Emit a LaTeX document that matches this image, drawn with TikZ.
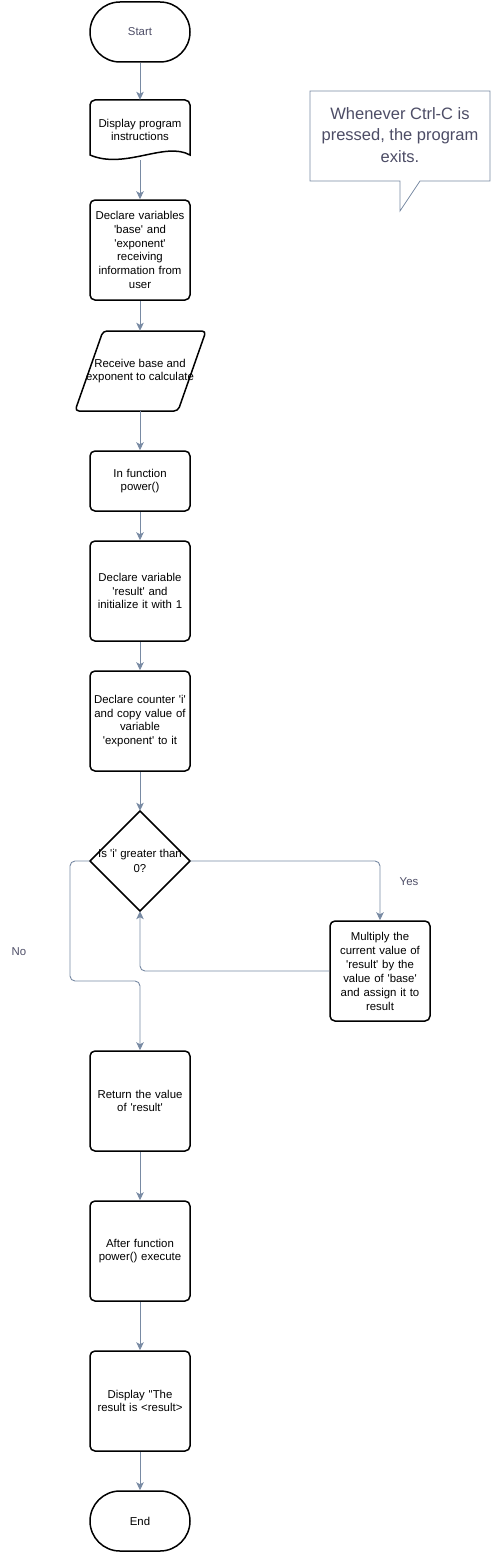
\documentclass[tikz,border=0pt]{standalone}
\usepackage{fontspec}
\setmainfont{Liberation Sans}[Ligatures=TeXOff]
\usetikzlibrary{arrows.meta}
\definecolor{linec}{RGB}{120,138,163}
\definecolor{txtg}{RGB}{77,77,102}
\begin{document}
\begin{tikzpicture}[x=1pt,y=-1pt,
  boxfont/.style={font=\fontsize{11.4}{13.8}\selectfont},
  proc/.style={draw=black, line width=1.5pt, rounded corners=5pt, fill=white,
    minimum width=100pt, minimum height=100pt, text width=98pt, align=center,
    inner sep=0pt, boxfont},
  term/.style={draw=black, line width=1.5pt, rounded corners=30pt, fill=white,
    minimum width=100pt, minimum height=60pt, align=center, inner sep=0pt, boxfont},
  ghost/.style={minimum width=100pt, inner sep=0pt, align=center, boxfont},
  conn/.style={draw=linec, line width=0.9pt, rounded corners=5pt,
    -{Stealth[length=8pt,width=7.5pt,inset=2pt]}},
  lbl/.style={text=txtg, boxfont}
]
\useasboundingbox (0,0) rectangle (491,1552);

% Start
\node[term, text=txtg] (start) at (140,32) {Start};

% Document shape
\draw[line width=1.5pt, fill=white]
  (90,108) [rounded corners=5pt] -- (90,100) -- (190,100) [sharp corners] -- (190,155)
  .. controls (165,141) and (125,170) .. (90,155) -- cycle;
\node[ghost, minimum height=60pt] (disp) at (140,130) {Display program\\instructions};

% Declare variables
\node[proc] (decl) at (140,250) {Declare variables\\'base' and\\'exponent'\\receiving\\information from\\user};

% Parallelogram
\draw[line width=1.5pt, fill=white, rounded corners=4pt]
  (103,331) -- (206,331) -- (178,411) -- (75,411) -- cycle;
\node[ghost, minimum height=80pt] (recv) at (140,371) {Receive base and\\exponent to calculate};

% In function
\node[proc, minimum height=60pt] (infn) at (140,481) {In function\\power()};

% Declare result
\node[proc] (res) at (140,591) {Declare variable\\'result' and\\initialize it with 1};

% Declare counter
\node[proc] (cnt) at (140,721) {Declare counter 'i'\\and copy value of\\variable\\'exponent' to it};

% Decision
\draw[line width=1.5pt, fill=white] (140,811) -- (190,861) -- (140,911) -- (90,861) -- cycle;
\node[minimum width=100pt, minimum height=100pt, inner sep=0pt, align=center,
  font=\fontsize{11.4}{15}\selectfont] (dec) at (140,861) {Is 'i' greater than\\0?};

% Multiply
\node[proc, font=\fontsize{11.4}{14}\selectfont] (mult) at (380,971) {Multiply the\\current value of\\'result' by the\\value of 'base'\\and assign it to\\result};

% Return
\node[proc] (ret) at (140,1101) {Return the value\\of 'result'};

% After function
\node[proc] (after) at (140,1251) {After function\\power() execute};

% Display result
\node[proc] (disp2) at (140,1401) {Display "The\\result is <result>};

% End
\node[term] (end) at (140,1521) {End};

% Callout
\draw[draw=linec, line width=0.8pt, fill=white]
  (310,91) -- (490,91) -- (490,181) -- (420,181) -- (400,211) -- (400,181) -- (310,181) -- cycle;
\node[text=txtg, align=center, inner sep=0pt, font=\fontsize{16.5}{21.5}\selectfont] (note) at (400,135)
  {Whenever Ctrl-C is\\pressed, the program\\exits.};

% Connectors
\draw[conn] (start) -- (disp);
\draw[conn] (disp) -- (decl);
\draw[conn] (decl) -- (recv);
\draw[conn] (recv) -- (infn);
\draw[conn] (infn) -- (res);
\draw[conn] (res) -- (cnt);
\draw[conn] (cnt) -- (dec.north);
\draw[conn] (dec.east) -| (mult.north);
\draw[conn] (mult.west) -| (dec.south);
\coordinate (nb) at (70,981);
\draw[conn] (dec.west) -| (nb) -| (ret.north);
\draw[conn] (ret) -- (after);
\draw[conn] (after) -- (disp2);
\draw[conn] (disp2) -- (end);

% Labels
\node[lbl] (yes) at (409,882) {Yes};
\node[lbl] (no) at (19,952) {No};
\end{tikzpicture}
\end{document}
